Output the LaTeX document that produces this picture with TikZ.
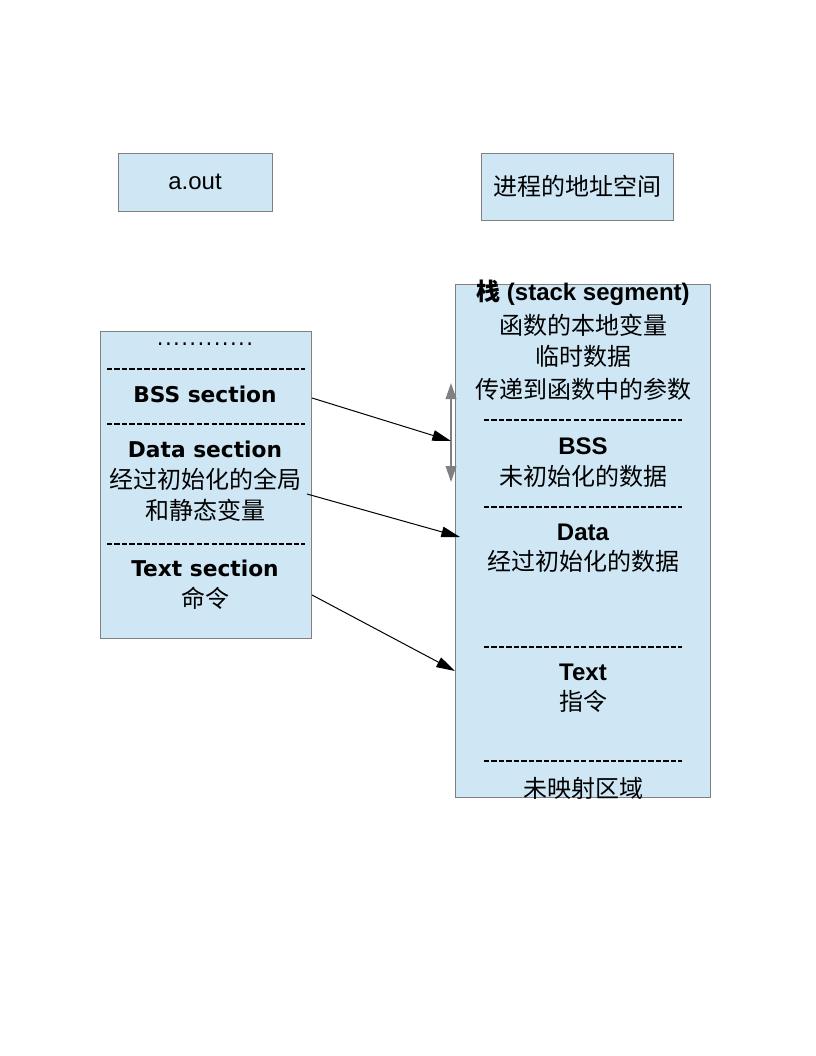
\documentclass[tikz,border=0pt]{standalone}
\usepackage{fontspec}
\setmainfont{Liberation Sans}
\newfontfamily\cjk{Noto Sans CJK SC}
\newfontfamily\dvs{DejaVu Sans}
\usetikzlibrary{arrows.meta}
\definecolor{boxfill}{RGB}{207,231,245}
\definecolor{boxline}{RGB}{128,128,128}
\tikzset{
  box/.style={draw=boxline, fill=boxfill, line width=0.6pt},
  zh/.style={inner sep=0pt, font=\cjk\fontsize{18}{18}\selectfont},
  lat/.style={inner sep=0pt, font=\fontsize{18}{18}\selectfont},
  latb/.style={inner sep=0pt, font=\bfseries\fontsize{18}{18}\selectfont},
  dvb/.style={inner sep=0pt, font=\dvs\bfseries\fontsize{16.3}{16}\selectfont},
  sep/.style={line width=1.4pt, dash pattern=on 4pt off 1.6pt},
  link/.style={line width=0.75pt, -{Triangle[length=14pt,width=8pt]}},
  growarrow/.style={draw=boxline, line width=1pt, {Triangle[length=12pt,width=8pt]}-{Triangle[length=12pt,width=8pt]}}
}
\begin{document}
\begin{tikzpicture}[x=0.75pt,y=-0.75pt]
\useasboundingbox (0,0) rectangle (816,1056);
% top boxes
\node[box, minimum width=154*0.75pt, minimum height=58*0.75pt, lat] (aout) at (195,182) {a.out};
\node[box, minimum width=192*0.75pt, minimum height=67*0.75pt, zh] (space) at (577,186.5) {进程的地址空间};
% left box
\node[box, minimum width=211*0.75pt, minimum height=307*0.75pt] (left) at (205.5,484.5) {};
\node[inner sep=0pt, font=\dvs\fontsize{16}{16}\selectfont] (ldots) at (205,344) {.\kern1pt.\kern1pt.\kern1pt.\kern1pt.\kern1pt.\kern1pt.\kern1pt.\kern1pt.\kern1pt.\kern1pt.\kern1pt.};
\draw[sep] (107,369) coordinate (l1a) -- (305,369) coordinate (l1b);
\node[dvb] (lbss) at (205,394) {BSS section};
\draw[sep] (107,424) coordinate (l2a) -- (305,424) coordinate (l2b);
\node[dvb] (ldata) at (205,449) {Data section};
\node[zh] (ldata1) at (205,479) {经过初始化的全局};
\node[zh] (ldata2) at (205,510) {和静态变量};
\draw[sep] (107,544) coordinate (l3a) -- (305,544) coordinate (l3b);
\node[dvb] (ltext) at (205,568) {Text section};
\node[zh] (ltext1) at (205,598) {命令};
% right box
\node[box, minimum width=255*0.75pt, minimum height=513*0.75pt] (right) at (582.5,540.5) {};
\node[latb] (rstack) at (583,293) {{\cjk 栈} (stack segment)};
\node[zh] (rs1) at (583,325) {函数的本地变量};
\node[zh] (rs2) at (583,356) {临时数据};
\node[zh] (rs3) at (583,389) {传递到函数中的参数};
\draw[sep] (484,420) coordinate (r1a) -- (682,420) coordinate (r1b);
\node[latb] (rbss) at (583,446) {BSS};
\node[zh] (rbss1) at (583,476) {未初始化的数据};
\draw[sep] (484,507) coordinate (r2a) -- (682,507) coordinate (r2b);
\node[latb] (rdata) at (583,532) {Data};
\node[zh] (rdata1) at (583,561) {经过初始化的数据};
\draw[sep] (484,647) coordinate (r3a) -- (682,647) coordinate (r3b);
\node[latb] (rtext) at (583,672) {Text};
\node[zh] (rtext1) at (583,701) {指令};
\draw[sep] (484,761) coordinate (r4a) -- (682,761) coordinate (r4b);
\node[zh] (runmap) at (583,788) {未映射区域};
% growth arrow
\coordinate (gtop) at (451,383);
\coordinate (gbot) at (451,482);
\draw[growarrow] (gtop) -- (gbot);
% links
\coordinate (s1) at (312,398);
\coordinate (e1) at (451,441);
\coordinate (s2) at (307,494);
\coordinate (e2) at (460,537);
\coordinate (s3) at (312,595);
\coordinate (e3) at (455,671);
\draw[link] (s1) -- (e1);
\draw[link] (s2) -- (e2);
\draw[link] (s3) -- (e3);
\end{tikzpicture}
\end{document}
